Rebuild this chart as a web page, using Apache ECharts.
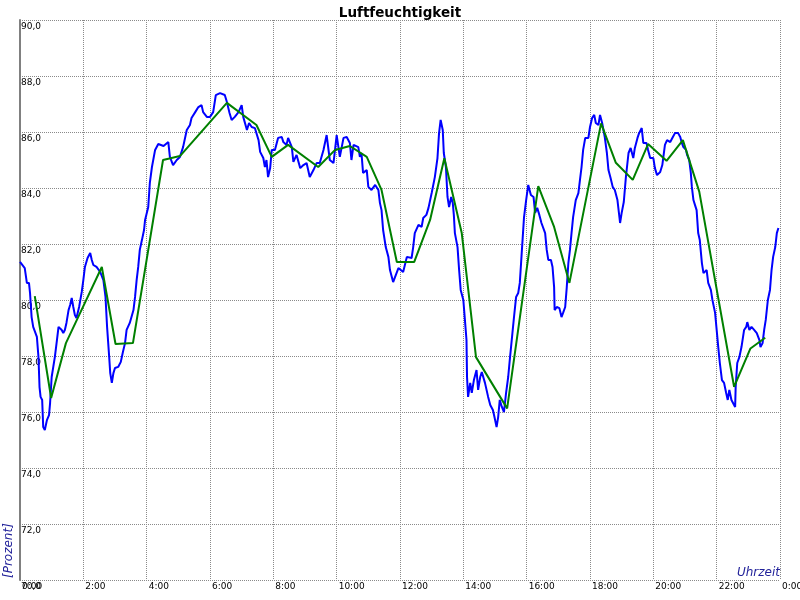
<!DOCTYPE html>
<html>
<head>
<meta charset="utf-8">
<script src="https://cdn.jsdelivr.net/npm/echarts@6/dist/echarts.min.js"></script>
<style>html,body{margin:0;padding:0;background:#fff;overflow:hidden}#c{width:800px;height:600px}</style>
</head>
<body>
<div id="c"></div>
<script>
// time in minutes since 0:00, humidity in %
const blueTime = [0,9,13,17,19,22,25,28,32,35,37,39,42,44,47,51,55,57,60,66,70,73,76,79,82,85,88,92,95,98,101,104,107,112,117,120,123,128,133,136,139,145,152,158,162,165,169,171,174,177,180,186,191,195,199,202,208,215,218,221,224,227,231,235,
237,243,246,250,256,262,272,281,284,290,297,303,309,316,322,
325,332,338,344,347,354,360,366,371,379,388,392,397,401,407,414,420,423,430,434,439,445,452,455,461,464,467,470,474,477,483,489,496,499,505,508,515,518,524,531,537,543,549,556,562,
568,575,581,587,594,600,606,613,619,625,628,632,641,644,647,650,657,660,666,673,679,682,685,688,693,698,701,707,712,717,
720,726,733,742,745,748,755,761,764,770,774,780,786,791,794,797,801,803,807,810,813,817,820,822,824,829,832,835,840,843,846,847,849,853,856,860,865,868,872,875,881,887,891,896,899,903,906,909,913,917,921,925,928,933,936,940,944,947,951,955,959,963,968,973,976,980,984,988,995,998,1001,1006,1009,1012,1013,1017,1022,1026,1029,1033,1036,1039,1042,1045,1048,1053,1058,1061,1064,1067,1071,1077,1080,1084,1088,1091,1096,1099,1103,1108,1112,1115,1119,1123,1127,1132,1137,
1140,1144,1148,1153,1157,1162,1165,1170,1173,1178,1181,1187,1190,1194,1200,1203,1207,1213,1217,1222,1226,1232,1237,1241,1247,1251,1254,1257,1262,1264,1268,1271,1273,1276,1279,1282,1285,1288,1292,1295,1301,1304,1309,1312,1317,1320,1323,1326,1330,1334,1338,1341,1344,1348,1351,1355,1356,1359,1363,1367,1372,1376,1378,1382,1386,1391,1396,1401,1403,1407,1410,1413,1417,1421,1424,1427,1431,1434,1437];
const blueValue = [81.36,81.14,80.61,80.61,80.25,79.39,79.04,79.00,78.68,77.96,76.89,76.54,76.43,75.46,75.36,75.71,75.89,76.32,77.25,77.96,78.57,79.04,79.11,78.93,78.82,78.93,79.18,79.64,79.82,80.07,79.75,79.46,79.36,79.75,80.29,80.71,81.18,81.50,81.68,81.43,81.25,81.18,81.00,80.71,80.11,79.04,77.96,77.39,77.04,77.39,77.57,77.61,77.79,78.14,78.46,78.93,79.18,79.64,80.11,80.71,81.18,81.79,82.14,82.50,
82.86,83.32,84.18,84.75,85.36,85.57,85.50,85.64,85.11,84.82,85.00,85.11,85.46,86.07,86.25,
86.50,86.71,86.89,86.96,86.71,86.54,86.54,86.71,87.32,87.39,87.32,87.07,86.68,86.43,86.54,86.71,86.96,86.54,86.07,86.32,86.18,86.14,85.71,85.29,85.07,84.75,85.00,84.39,84.71,85.36,85.36,85.79,85.82,85.64,85.54,85.79,85.46,84.93,85.18,84.71,84.82,84.89,84.39,84.64,84.89,
84.89,85.36,85.89,85.00,84.89,85.89,85.11,85.79,85.82,85.61,85.00,85.54,85.46,85.11,85.25,84.54,84.64,84.04,83.93,84.11,83.93,83.46,83.21,82.50,81.89,81.54,81.07,80.64,80.89,81.14,
81.18,81.00,81.54,81.50,81.89,82.39,82.68,82.61,82.93,83.04,83.29,83.82,84.39,85.07,85.96,86.43,86.07,85.25,84.75,83.68,83.32,83.68,83.46,83.04,82.39,81.89,81.07,80.36,80.00,79.29,78.57,77.25,76.54,77.04,76.68,77.14,77.50,76.79,77.25,77.43,77.04,76.54,76.25,76.07,75.82,75.46,75.82,76.43,76.18,76.00,76.68,77.25,77.86,78.82,79.39,80.11,80.25,80.61,81.79,82.96,83.57,84.11,83.75,83.68,83.11,83.29,83.04,82.75,82.39,81.79,81.43,81.43,81.18,80.46,79.64,79.75,79.71,79.39,79.54,79.75,80.46,81.32,81.79,82.39,82.96,83.57,83.82,84.29,84.75,85.36,85.79,85.79,86.18,86.50,86.61,86.32,86.25,86.61,86.32,85.82,85.25,84.64,84.36,84.04,83.93,83.57,82.75,
83.11,83.50,84.39,85.25,85.43,85.07,85.43,85.79,85.96,86.14,85.61,85.61,85.36,85.07,85.07,84.71,84.46,84.57,84.82,85.54,85.71,85.64,85.82,85.96,85.96,85.82,85.61,85.46,85.36,85.18,85.00,84.54,84.04,83.57,83.39,83.21,82.39,82.14,81.32,80.96,81.07,80.61,80.36,80.00,79.54,78.93,78.32,77.75,77.14,77.04,76.68,76.43,76.79,76.43,76.36,76.18,76.89,77.75,77.96,78.32,78.93,79.04,79.21,78.93,79.04,78.93,78.82,78.57,78.32,78.46,78.93,79.29,80.00,80.36,81.07,81.54,81.89,82.39,82.57];

const greenTime = [28,59,87,114,155,181,214,271,303,392,448,477,508,565,597,625,657,685,714,747,777,804,837,864,923,982,1012,1041,1101,1129,1161,1190,1225,1256,1287,1353,1384,1412];
const greenValue = [80.14,76.50,78.46,79.54,81.18,78.43,78.46,85.00,85.14,87.04,86.25,85.11,85.54,84.75,85.36,85.50,85.11,83.93,81.36,81.36,82.86,85.06,82.39,77.96,76.13,84.07,82.61,80.61,86.31,84.90,84.29,85.57,84.97,85.71,83.87,76.90,78.27,78.65];

const xMin = 0, xMax = 1440, xStep = 120;
const yMin = 70, yMax = 90, yStep = 2;
const titleText = 'Luftfeuchtigkeit';
const yName = '[Prozent]';
const xName = 'Uhrzeit';

const blueData = blueTime.map((t, i) => [t, blueValue[i]]);
const greenData = greenTime.map((t, i) => [t, greenValue[i]]);

const FONT = 'DejaVu Sans';
const chart = echarts.init(document.getElementById('c'), null, {renderer: 'canvas'});
chart.setOption({
  animation: false,
  backgroundColor: '#ffffff',
  title: {
    text: titleText, left: 'center', top: 1,
    textStyle: {fontFamily: FONT, fontSize: 13.5, fontWeight: 'bold', color: '#000'}
  },
  grid: {left: 20, right: 20, top: 20, bottom: 20, containLabel: false, outerBoundsMode: 'none'},
  xAxis: {
    type: 'value', min: xMin, max: xMax, interval: xStep,
    axisLine: {show: false}, axisTick: {show: false},
    splitLine: {show: true, lineStyle: {color: '#8a8a8a', width: 1, type: [1, 1]}},
    axisLabel: {
      show: true, margin: 2, align: 'left', padding: [0, 0, 0, 2],
      fontFamily: FONT, fontSize: 9, color: '#000', hideOverlap: false,
      formatter: v => ((v / 60) % 24) + ':00'
    }
  },
  yAxis: {
    type: 'value', min: yMin, max: yMax, interval: yStep,
    axisLine: {show: true, lineStyle: {color: '#808080', width: 2}},
    axisTick: {show: false},
    splitLine: {show: true, lineStyle: {color: '#8a8a8a', width: 1, type: [1, 1]}},
    axisLabel: {
      show: true, inside: true, margin: 1, align: 'left', verticalAlign: 'top',
      padding: [2, 0, 0, 0],
      fontFamily: FONT, fontSize: 9, color: '#000',
      formatter: v => v.toFixed(1).replace('.', ',')
    }
  },
  graphic: [
    {type: 'text', x: 3, y: 578, rotation: Math.PI / 2,
     style: {text: yName, fill: '#22229a', font: 'italic 12px "DejaVu Sans"', align: 'left', verticalAlign: 'top'}},
    {type: 'text', x: 780, y: 579,
     style: {text: xName, fill: '#22229a', font: 'italic 12px "DejaVu Sans"', align: 'right', verticalAlign: 'bottom'}}
  ],
  series: [
    {type: 'line', data: blueData, showSymbol: false, lineStyle: {color: '#0000ff', width: 2}, itemStyle: {color: '#0000ff'}, z: 2},
    {type: 'line', data: greenData, showSymbol: false, lineStyle: {color: '#008000', width: 2}, itemStyle: {color: '#008000'}, z: 3}
  ]
});
</script>
</body>
</html>
